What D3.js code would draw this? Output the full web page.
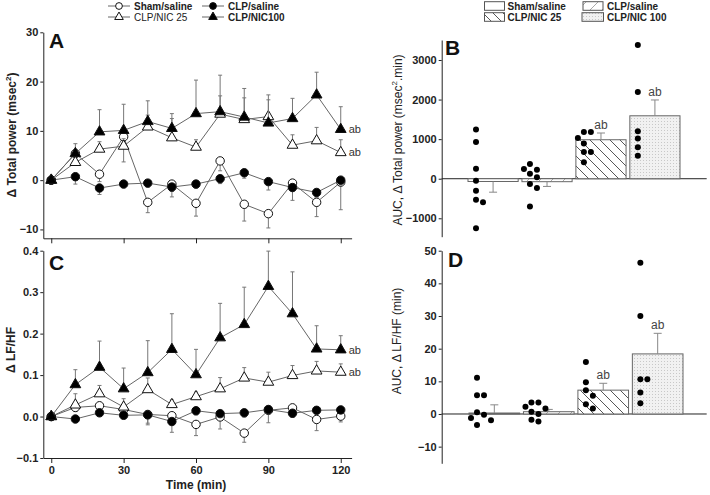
<!DOCTYPE html>
<html>
<head>
<meta charset="utf-8">
<script src="https://cdn.jsdelivr.net/npm/d3@7"></script>
<style>
  body { margin: 0; background: #fff; }
  text { font-family: "Liberation Sans", Arial, sans-serif; }
</style>
</head>
<body>
<svg id="chart" width="710" height="495"></svg>
<script>
// ---- data ----
var times = [0, 10, 20, 30, 40, 50, 60, 70, 80, 90, 100, 110, 120];
var lineSeries = ["Sham/saline", "CLP/saline", "CLP/NIC 25", "CLP/NIC100"];
var barGroups = ["Sham/saline", "CLP/saline", "CLP/NIC 25", "CLP/NIC 100"];

// panel A: delta total power (msec^2), mean and SEM
var shamA = [0, 5.4, 1.2, 8.8, -4.5, -0.8, -4.7, 3.9, -4.9, -6.8, -0.6, -4.5, -0.4];
var shamAErr = [0, 1.5, 1.5, 5.1, 2.1, 1.5, 2.6, 2.0, 3.4, 2.9, 1.0, 2.9, 5.6];
var clpA = [0, 0.7, -1.6, -0.8, -0.6, -1.4, -0.8, 0.3, 1.5, -0.3, -1.5, -2.5, 0];
var clpAErr = [0, 1.5, 1.3, 0.6, 0.8, 2.0, 0.8, 1.0, 1.1, 1.7, 2.6, 1.0, 1.0];
var nic25A = [0, 3.6, 6.3, 6.9, 10.8, 8.6, 6.7, 13.4, 12.3, 12.9, 7.1, 8.0, 5.6];
var nic25AErr = [0, 1.6, 1.5, 1.5, 2.4, 3.9, 1.5, 3.7, 4.4, 3.4, 2.1, 2.7, 2.6];
var nic100A = [0, 5.4, 9.8, 10.1, 11.9, 10.5, 13.5, 13.9, 12.8, 11.6, 12.5, 17.3, 10.3];
var nic100AErr = [0, 2.0, 4.5, 5.3, 4.2, 3.0, 6.8, 7.4, 5.8, 5.7, 4.1, 4.6, 4.6];

// panel C: delta LF/HF
var shamC = [0, 0.022, 0.026, 0.017, 0.005, 0.002, -0.019, -0.001, -0.040, 0.015, 0.021, -0.007, 0.001];
var shamCErr = [0, 0.01, 0.01, 0.01, 0.025, 0.01, 0.027, 0.029, 0.022, 0.03, 0.01, 0.027, 0.014];
var clpC = [0, -0.006, 0.009, 0.003, 0.004, -0.012, 0.014, 0.007, 0.009, 0.017, 0.008, 0.015, 0.016];
var clpCErr = [0, 0.005, 0.005, 0.005, 0.02, 0.026, 0.01, 0.005, 0.01, 0.01, 0.01, 0.005, 0.005];
var nic25C = [0, 0.028, 0.055, 0.023, 0.065, 0.029, 0.048, 0.067, 0.093, 0.083, 0.099, 0.11, 0.107];
var nic25CErr = [0, 0.027, 0.02, 0.02, 0.028, 0.011, 0.011, 0.027, 0.025, 0.024, 0.024, 0.023, 0.02];
var nic100C = [0, 0.077, 0.119, 0.067, 0.106, 0.162, 0.101, 0.19, 0.222, 0.314, 0.248, 0.163, 0.161];
var nic100CErr = [0, 0.036, 0.063, 0.05, 0.077, 0.086, 0.061, 0.083, 0.09, 0.085, 0.101, 0.056, 0.034];

// panel B: AUC of delta total power
var aucTPMean = [-70, -75, 985, 1590];
var aucTPErr = [270, 120, 170, 400];
var aucTPDots = [
  [1243, 930, 254, -50, -304, -532, -592, -1251],
  [372, 228, 245, 127, 34, -135, -237, -702],
  [1183, 1183, 1031, 888, 676, 676, 414],
  [3381, 2190, 1200, 1014, 795, 583]
];

// panel D: AUC of delta LF/HF
var aucLFMean = [0.3, 0.7, 7.3, 18.4];
var aucLFErr = [2.5, 0.7, 2.1, 6.3];
var aucLFDots = [
  [11.1, 5.7, 5.7, 0.5, -0.2, -1.2, -1.9, -3.4],
  [3.5, 3.5, 2.2, 1.7, 0.7, 0, -1.8, -2.3],
  [15.9, 9.7, 7.3, 5.6, 3.0, 1.7],
  [46.3, 30, 10.6, 10.6, 6.6, 3.3]
];

var sigMarks = ["", "", "ab", "ab"];

// ---- setup ----
var svg = d3.select("#chart");
var defs = svg.append("defs");

var pFwd = defs.append("pattern").attr("id", "hatchFwd")
  .attr("patternUnits", "userSpaceOnUse").attr("width", 12).attr("height", 12);
pFwd.append("rect").attr("width", 12).attr("height", 12).attr("fill", "#fff");
pFwd.append("path").attr("d", "M0,12L12,0M-3,3L3,-3M9,15L15,9")
  .attr("stroke", "#aaa").attr("stroke-width", 1);

var pBack = defs.append("pattern").attr("id", "hatchBack")
  .attr("patternUnits", "userSpaceOnUse").attr("width", 10).attr("height", 10);
pBack.append("rect").attr("width", 10).attr("height", 10).attr("fill", "#fff");
pBack.append("path").attr("d", "M0,0L10,10M-3,7L3,13M7,-3L13,3")
  .attr("stroke", "#444").attr("stroke-width", 0.9);

var pDots = defs.append("pattern").attr("id", "dotFill")
  .attr("patternUnits", "userSpaceOnUse").attr("width", 3).attr("height", 3);
pDots.append("rect").attr("width", 3).attr("height", 3).attr("fill", "#f1f1f1");
pDots.append("rect").attr("x", 1).attr("y", 1).attr("width", 1).attr("height", 1).attr("fill", "#c8c8c8");

var barFills = ["#fff", "url(#hatchFwd)", "url(#hatchBack)", "url(#dotFill)"];

var lineStyle = [
  {fill: "#fff", sym: d3.symbolCircle, dir: -1},
  {fill: "#000", sym: d3.symbolCircle, dir: -1},
  {fill: "#fff", sym: d3.symbolTriangle, dir: 1},
  {fill: "#000", sym: d3.symbolTriangle, dir: 1}
];

function styleAxis(a) {
  a.selectAll(".domain").attr("stroke", "#222");
  a.selectAll(".tick line").attr("stroke", "#222");
  a.selectAll(".tick text").attr("font-size", 11).attr("font-weight", "bold")
    .attr("fill", "#222").attr("font-family", "Liberation Sans, Arial, sans-serif");
}

// ---- line panels (A, C) ----
var xLine = d3.scaleLinear().domain([-3.3, 124.5]).range([43.3, 351.6]);
var yA = d3.scaleLinear().domain([-11.8, 30]).range([238.3, 32.3]);
var yC = d3.scaleLinear().domain([-0.1, 0.4]).range([458, 250.7]);

function drawLinePanel(y, vals, errs, yTicks, fmt, xLabels) {
  var g = svg.append("g");
  var ax = g.append("g").attr("transform", "translate(" + xLine.range()[0] + ",0)")
    .call(d3.axisLeft(y).tickValues(yTicks).tickFormat(fmt).tickSize(3).tickPadding(2).tickSizeOuter(0));
  styleAxis(ax);
  var bx = g.append("g").attr("transform", "translate(0," + y.range()[0] + ")")
    .call(d3.axisBottom(xLine).tickValues([0, 30, 60, 90, 120]).tickSize(5).tickPadding(3).tickSizeOuter(0)
      .tickFormat(xLabels ? d3.format("d") : function() { return ""; }));
  styleAxis(bx);

  var line = d3.line().x(function(d) { return xLine(d.t); }).y(function(d) { return y(d.v); });

  vals.forEach(function(v, i) {
    var st = lineStyle[i];
    var pts = times.map(function(t, j) { return {t: t, v: v[j], e: errs[i][j]}; });
    var s = g.append("g");
    var eb = s.selectAll(".eb").data(pts.filter(function(d) { return d.e > 0; })).enter().append("g")
      .attr("stroke", "#777").attr("stroke-width", 1);
    eb.append("line")
      .attr("x1", function(d) { return xLine(d.t); }).attr("x2", function(d) { return xLine(d.t); })
      .attr("y1", function(d) { return y(d.v); }).attr("y2", function(d) { return y(d.v + st.dir * d.e); });
    eb.append("line")
      .attr("x1", function(d) { return xLine(d.t) - 2; }).attr("x2", function(d) { return xLine(d.t) + 2; })
      .attr("y1", function(d) { return y(d.v + st.dir * d.e); }).attr("y2", function(d) { return y(d.v + st.dir * d.e); });
    s.append("path").datum(pts).attr("d", line).attr("fill", "none").attr("stroke", "#666").attr("stroke-width", 1);
    s.selectAll(".mk").data(pts).enter().append("path")
      .attr("d", d3.symbol().type(st.sym).size(st.sym === d3.symbolCircle ? 56 : 50))
      .attr("transform", function(d) { return "translate(" + xLine(d.t) + "," + y(d.v) + ")"; })
      .attr("fill", st.fill).attr("stroke", "#111").attr("stroke-width", 1);
  });

  // significance marks at the last point
  [2, 3].forEach(function(i) {
    g.append("text").attr("x", xLine(120) + 8).attr("y", y(vals[i][vals[i].length - 1]))
      .attr("dy", "0.35em").attr("font-size", 11).attr("fill", "#333").text(sigMarks[i]);
  });
  return g;
}

drawLinePanel(yA, [shamA, clpA, nic25A, nic100A], [shamAErr, clpAErr, nic25AErr, nic100AErr],
  [-10, 0, 10, 20, 30], d3.format("d"), false);
drawLinePanel(yC, [shamC, clpC, nic25C, nic100C], [shamCErr, clpCErr, nic25CErr, nic100CErr],
  [-0.1, 0, 0.1, 0.2, 0.3, 0.4], d3.format(".1f"), true);

// ---- bar panels (B, D) ----
var xB = d3.scaleBand().domain(barGroups).range([468, 680]).paddingInner(0.07);
var yB = d3.scaleLinear().domain([-1465, 3505]).range([236.7, 40]);
var xD = d3.scaleBand().domain(barGroups).range([469, 683]).paddingInner(0.07);
var yD = d3.scaleLinear().domain([-15.1, 50]).range([463.3, 250.7]);

function dodge(vals, y, base) {
  var placed = [];
  var offs = [0, 7, -6, 14];
  return vals.map(function(v) {
    var cy = y(v), dx = 0;
    for (var k = 0; k < offs.length; k++) {
      var o = offs[k];
      var ok = placed.every(function(p) { return Math.hypot(p.x - o, p.y - cy) >= 6.5; });
      if (ok) { dx = o; break; }
    }
    placed.push({x: dx, y: cy});
    return {cx: base + dx, cy: cy};
  });
}

function drawBarPanel(x, y, means, errs, dots, yTicks) {
  var g = svg.append("g");
  var axX = 441.7;
  var ax = g.append("g").attr("transform", "translate(" + axX + ",0)")
    .call(d3.axisLeft(y).tickValues(yTicks).tickFormat(d3.format("d")).tickSize(3).tickPadding(2).tickSizeOuter(0));
  styleAxis(ax);
  g.append("line").attr("x1", axX).attr("x2", 706.7).attr("y1", y(0)).attr("y2", y(0))
    .attr("stroke", "#222").attr("stroke-width", 1);

  var bw = x.bandwidth();
  g.selectAll(".bar").data(barGroups).enter().append("rect")
    .attr("x", function(d) { return x(d); })
    .attr("y", function(d, i) { return y(Math.max(0, means[i])); })
    .attr("width", bw)
    .attr("height", function(d, i) { return Math.abs(y(means[i]) - y(0)); })
    .attr("fill", function(d, i) { return barFills[i]; })
    .attr("stroke", "#666").attr("stroke-width", 1);

  barGroups.forEach(function(grp, i) {
    var cx = x(grp) + bw / 2;
    var sign = means[i] < 0 ? -1 : 1;
    var tip = y(means[i] + sign * errs[i]);
    g.append("line").attr("x1", cx).attr("x2", cx).attr("y1", y(means[i])).attr("y2", tip)
      .attr("stroke", "#888").attr("stroke-width", 1);
    g.append("line").attr("x1", cx - 4).attr("x2", cx + 4).attr("y1", tip).attr("y2", tip)
      .attr("stroke", "#888").attr("stroke-width", 1);
    if (sigMarks[i]) {
      g.append("text").attr("x", cx).attr("y", tip - 4).attr("text-anchor", "middle")
        .attr("font-size", 12).attr("fill", "#444").text(sigMarks[i]);
    }
    g.selectAll(".dot" + i).data(dodge(dots[i], y, x(grp) + 8)).enter().append("circle")
      .attr("cx", function(d) { return d.cx; }).attr("cy", function(d) { return d.cy; })
      .attr("r", 3).attr("fill", "#000");
  });
  return g;
}

drawBarPanel(xB, yB, aucTPMean, aucTPErr, aucTPDots, [-1000, 0, 1000, 2000, 3000]);
drawBarPanel(xD, yD, aucLFMean, aucLFErr, aucLFDots, [-10, 0, 10, 20, 30, 40, 50]);

// ---- panel letters ----
[["A", 49, 48], ["B", 445, 55], ["C", 49, 270], ["D", 448, 267]].forEach(function(p) {
  svg.append("text").attr("x", p[1]).attr("y", p[2]).attr("font-size", 21)
    .attr("font-weight", "bold").attr("fill", "#111").text(p[0]);
});

// ---- axis titles ----
var tA = svg.append("text").attr("transform", "translate(16,135) rotate(-90)")
  .attr("text-anchor", "middle").attr("font-size", 12).attr("font-weight", "bold").attr("fill", "#222");
tA.append("tspan").text("\u0394 Total power (msec");
tA.append("tspan").attr("font-size", 8).attr("dy", -5).text("2");
tA.append("tspan").attr("dy", 5).text(")");

svg.append("text").attr("transform", "translate(15,350) rotate(-90)")
  .attr("text-anchor", "middle").attr("font-size", 12).attr("font-weight", "bold").attr("fill", "#222")
  .text("\u0394 LF/HF");

svg.append("text").attr("x", 196).attr("y", 489).attr("text-anchor", "middle")
  .attr("font-size", 12).attr("font-weight", "bold").attr("fill", "#222").text("Time (min)");

var tB = svg.append("text").attr("transform", "translate(402,140) rotate(-90)")
  .attr("text-anchor", "middle").attr("font-size", 12).attr("fill", "#222");
tB.append("tspan").text("AUC, \u0394 Total power (msec");
tB.append("tspan").attr("font-size", 8).attr("dy", -5).text("2");
tB.append("tspan").attr("dy", 5).text(".min)");

svg.append("text").attr("transform", "translate(401,341) rotate(-90)")
  .attr("text-anchor", "middle").attr("font-size", 12).attr("fill", "#222")
  .text("AUC, \u0394 LF/HF (min)");

// ---- legends ----
var legL = svg.append("g");
[[0, 108, 6], [1, 202, 6], [2, 108, 17], [3, 202, 17]].forEach(function(p) {
  var st = lineStyle[p[0]];
  legL.append("line").attr("x1", p[1]).attr("x2", p[1] + 22).attr("y1", p[2]).attr("y2", p[2])
    .attr("stroke", "#666");
  legL.append("path").attr("d", d3.symbol().type(st.sym).size(st.sym === d3.symbolCircle ? 36 : 32))
    .attr("transform", "translate(" + (p[1] + 11) + "," + p[2] + ")")
    .attr("fill", st.fill).attr("stroke", "#111");
  legL.append("text").attr("x", p[1] + 26).attr("y", p[2]).attr("dy", "0.35em")
    .attr("font-size", 10).attr("font-weight", p[0] === 2 ? "normal" : "bold").attr("fill", "#222")
    .text(lineSeries[p[0]]);
});

var legR = svg.append("g");
[[0, 484.5, 1.7], [1, 583, 1.7], [2, 484.5, 12.7], [3, 582, 12.7]].forEach(function(p) {
  legR.append("rect").attr("x", p[1]).attr("y", p[2]).attr("width", p[0] === 3 ? 21.5 : 20).attr("height", 8.6)
    .attr("fill", barFills[p[0]]).attr("stroke", "#555");
  legR.append("text").attr("x", p[0] % 2 ? 607 : 507.5).attr("y", p[2] + 4.3).attr("dy", "0.35em")
    .attr("font-size", 10).attr("font-weight", "bold").attr("fill", "#222").text(barGroups[p[0]]);
});
</script>
</body>
</html>
